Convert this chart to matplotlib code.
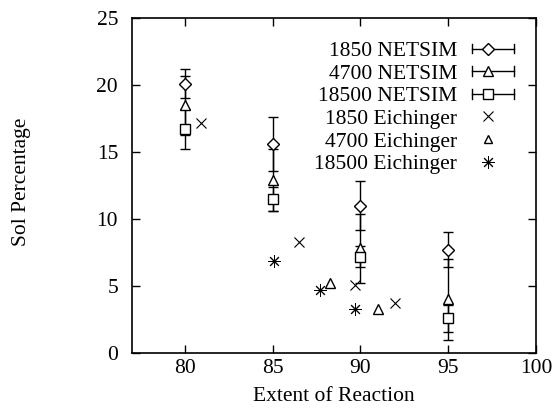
import matplotlib
matplotlib.use("Agg")
import matplotlib.pyplot as plt
from matplotlib.lines import Line2D
from matplotlib.legend_handler import HandlerBase

plt.rcParams['font.family'] = ['Liberation Serif', 'DejaVu Serif']
FS = 15.5
plt.rcParams['font.size'] = FS

# ---- data ----
extent = [80, 85, 90, 95]
netsim_1850 = [20.1, 15.6, 11.0, 7.7]
netsim_1850_err = [1.1, 2.0, 1.8, 1.3]
netsim_4700 = [18.5, 12.9, 7.8, 4.0]
netsim_4700_err = [2.2, 2.3, 2.6, 3.0]
netsim_18500 = [16.7, 11.5, 7.2, 2.6]
netsim_18500_err = [1.5, 0.9, 0.8, 1.0]

eich_1850_x = [80.9, 86.5, 89.7, 92.0]
eich_1850_y = [17.2, 8.3, 5.1, 3.7]
eich_4700_x = [88.3, 91.0]
eich_4700_y = [5.2, 3.3]
eich_18500_x = [85.1, 87.7, 89.7]
eich_18500_y = [6.9, 4.7, 3.3]

labels = ["1850 NETSIM", "4700 NETSIM", "18500 NETSIM",
          "1850 Eichinger", "4700 Eichinger", "18500 Eichinger"]
xticks = [80, 85, 90, 95, 100]
yticks = [0, 5, 10, 15, 20, 25]

# ---- figure ----
fig = plt.figure(figsize=(5.6, 4.12), dpi=100)
ax = fig.add_axes([132/560, 59/412, (536-132)/560, (353-18)/412])

asterisk = (8, 2, 0)
ebkw = dict(color='black', ecolor='black', elinewidth=1.0, capsize=3.5,
            capthick=1.0, linestyle='none', mfc='white', mec='black', mew=1.0)

ax.errorbar(extent, netsim_1850, yerr=netsim_1850_err, marker='D', ms=6, **ebkw)
ax.errorbar(extent, netsim_4700, yerr=netsim_4700_err, marker='^', ms=7, **ebkw)
ax.errorbar(extent, netsim_18500, yerr=netsim_18500_err, marker='s', ms=7.5, **ebkw)

ax.plot(eich_1850_x, eich_1850_y, linestyle='none', marker='x', ms=7.5, mec='black', mew=0.8)
ax.plot(eich_4700_x, eich_4700_y, linestyle='none', marker='^', ms=7, mfc='white', mec='black', mew=1.0)
ax.plot(eich_18500_x, eich_18500_y, linestyle='none', marker=asterisk, ms=9, mec='black', mew=0.7)

ax.set_xlim(77, 100)
ax.set_ylim(0, 25)
ax.set_xticks(xticks)
ax.set_yticks(yticks)
ax.tick_params(direction='in', top=True, right=True, length=6, width=1.0, labelsize=FS)
ax.tick_params(axis='y', pad=10)
ax.tick_params(axis='x', pad=4)
for s in ax.spines.values():
    s.set_linewidth(1.2)

ax.set_xlabel("Extent of Reaction", fontsize=FS, labelpad=7)
fig.text(22/560, 0.558, "Sol Percentage", rotation=90, ha='center', va='center', fontsize=FS)


# ---- legend (gnuplot style) ----
class HErrHandler(HandlerBase):
    def __init__(self, marker, ms):
        super().__init__()
        self.marker = marker
        self.ms = ms

    def create_artists(self, legend, orig_handle, xdescent, ydescent, width, height, fontsize, trans):
        y = height / 2 - ydescent
        x0 = -xdescent
        x1 = -xdescent + width
        c = 3.5
        arts = [Line2D([x0, x1], [y, y], color='black', lw=1.0),
                Line2D([x0, x0], [y - c, y + c], color='black', lw=1.0),
                Line2D([x1, x1], [y - c, y + c], color='black', lw=1.0),
                Line2D([x0 + width * 0.37], [y], linestyle='none', marker=self.marker,
                       ms=self.ms, mfc='white', mec='black', mew=1.0)]
        for a in arts:
            a.set_transform(trans)
        return arts


class PtHandler(HandlerBase):
    def __init__(self, marker, ms, mfc, mew):
        super().__init__()
        self.marker = marker
        self.ms = ms
        self.mfc = mfc
        self.mew = mew

    def create_artists(self, legend, orig_handle, xdescent, ydescent, width, height, fontsize, trans):
        y = height / 2 - ydescent
        a = Line2D([-xdescent + width * 0.37], [y], linestyle='none', marker=self.marker,
                   ms=self.ms, mfc=self.mfc, mec='black', mew=self.mew)
        a.set_transform(trans)
        return [a]


handles = [Line2D([], []) for _ in labels]
hmap = {
    handles[0]: HErrHandler('D', 6),
    handles[1]: HErrHandler('^', 7),
    handles[2]: HErrHandler('s', 7.5),
    handles[3]: PtHandler('x', 7.5, 'none', 0.8),
    handles[4]: PtHandler('^', 6, 'white', 1.0),
    handles[5]: PtHandler(asterisk, 9, 'none', 0.7),
}
leg = ax.legend(handles, labels, handler_map=hmap, loc='upper right', frameon=False,
                markerfirst=False, handlelength=1.95, handletextpad=0.7,
                labelspacing=0.12, borderaxespad=0.0, borderpad=0.0, fontsize=FS,
                bbox_to_anchor=(514/560, 1 - 41/412), bbox_transform=fig.transFigure)

fig.savefig("out.png", dpi=100)
